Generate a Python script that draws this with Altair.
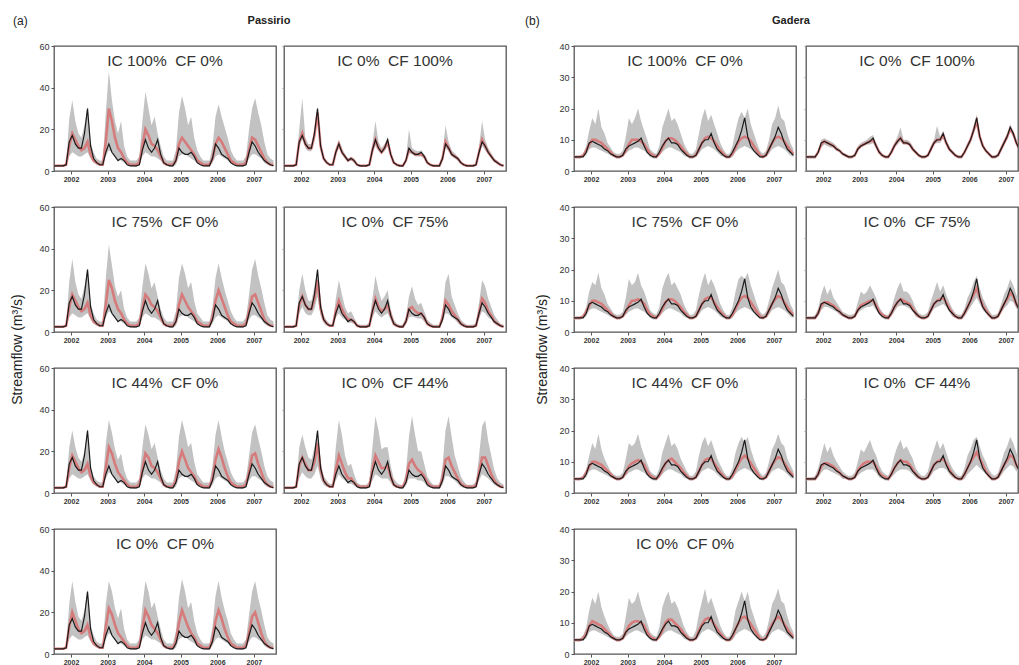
import altair as alt
import pandas as pd

FONT = "Liberation Sans"
T0 = 2001.535
N_MONTHS = 73
YEAR_TICKS = [2002, 2003, 2004, 2005, 2006, 2007]
PX_PER_YR = 222 / 6.07

# ---------------- Passirio (monthly values, m3/s) ----------------
obs_P = [2.5,2.5,2.5,2.5,3, 14,17,13,11,11,18,30,12, 6,4,3,3, 9,13,9,7,5,6,5,
         3,2.5,2.5,2.5,3, 10,15,11,9,11,15,8,4, 3,2.5,2.5, 5,11,9,8,8,9,7,4,
         3,2.5,2.5,2.5, 6,13,11,8,7,6,4, 3,2.5,2.5,2.5,3, 9,14,12,9,7,5,4,3,2.5]

lo_P_IC = [2,2,2,2,2.5, 7,9,8,7,7,8,9,6, 4,3,2.5,2.5, 7,10,9,7,5.5,5,4,
           3,2.5,2,2,3, 7,9,8,7,7,6,5,3, 2.5,2,2, 3,7,8,8,7,6,5,3.5,
           3,2.5,2,2, 4,7,8,7,6,5,3.5, 3,2.5,2,2,3, 6,8,8,7,6,4,3,2.5,2]

red_P_IC100 = [2.5,2.5,2.5,2.5,3, 12,18,15,12,10,11,14,8, 5,4,3,3, 14,30,24,16,11,9,6,
               4,3,3,3,4, 12,20,17,13,12,10,7,4, 3,3,3, 5,13,16,14,12,10,8,5,
               4,3,3,3, 6,13,16,14,11,8,5, 4,3,3,3,4, 10,16,15,12,9,6,4,3,3]
hi_P_IC100 = [3,3,3,3,4, 25,34,24,18,16,22,31,14, 9,6,5,5, 28,48,34,24,18,24,12,
              7,5,5,5,7, 24,38,30,22,26,18,12,7, 5,5,5, 10,28,36,30,22,26,16,10,
              7,5,5,5, 12,26,32,26,21,16,10, 7,5,5,5,7, 20,30,35,28,22,14,8,6,5]

red_P_IC75 = [2.5,2.5,2.5,2.5,3, 12,18,15,12,10,11,14,8, 5,4,3,3, 13,25,21,15,11,9,6,
              4,3,3,3,4, 11,18,16,13,12,10,7,4, 3,3,3, 5,13,18,15,12,10,8,5,
              4,3,3,3, 7,15,20,16,12,8,5, 4,3,3,3,4, 10,17,18,14,10,6,4,3,3]
hi_P_IC75 = [3,3,3,3,4, 24,35,24,18,16,22,31,14, 9,6,5,5, 26,42,32,22,17,20,11,
             7,5,5,5,7, 22,33,28,21,24,17,11,7, 5,5,5, 10,26,33,28,21,24,15,9,
             7,5,5,5, 12,26,33,26,20,15,10, 7,5,5,5,7, 18,30,35,27,21,14,8,6,5]

red_P_IC44 = [2.5,2.5,2.5,2.5,3, 12,18,15,12,10,11,14,8, 5,4,3,3, 12,22,19,14,10,8,6,
              4,3,3,3,4, 11,19,17,13,12,10,7,4, 3,3,3, 6,15,20,16,12,10,8,5,
              4,3,3,3, 7,16,21,17,12,8,5, 4,3,3,3,4, 10,18,19,14,10,6,4,3,3]
hi_P_IC44 = [3,3,3,3,4, 22,30,22,17,15,20,31,13, 8,6,5,5, 24,35,29,21,16,19,11,
             7,5,5,5,7, 22,33,28,21,24,17,11,7, 5,5,5, 11,27,35,29,22,24,15,9,
             7,5,5,5, 13,28,35,27,20,15,10, 7,5,5,5,7, 18,29,33,26,20,13,8,6,5]

red_P_IC0 = [2.5,2.5,2.5,2.5,3, 13,20,16,12,10,11,14,8, 5,4,3,3, 13,22,19,14,10,8,6,
             4,3,3,3,4, 12,21,18,14,12,10,7,4, 3,3,3, 6,15,21,17,13,10,8,5,
             4,3,3,3, 7,16,21,17,12,8,5, 4,3,3,3,4, 10,18,20,15,10,6,4,3,3]
hi_P_IC0 = [3,3,3,3,4, 24,35,25,18,16,21,31,14, 9,6,5,5, 24,35,30,22,17,22,12,
            7,5,5,5,7, 23,35,30,22,25,18,12,7, 5,5,5, 11,27,36,30,22,25,16,10,
            7,5,5,5, 13,28,35,27,21,16,10, 7,5,5,5,7, 19,30,35,27,21,14,8,6,5]

red_P_CF100 = [2.5,2.5,2.5,2.5,3, 14,18,13,11,11,17,28,12, 6,4,3,3, 9,13,9,7,5,6,5,
               3,2.5,2.5,2.5,3, 10,15,11,9,11,14,8,4, 3,2.5,2.5, 5,10,9,8,8,8,7,4,
               3,2.5,2.5,2.5, 6,14,11,8,7,6,4, 3,2.5,2.5,2.5,3, 9,15,12,9,7,5,4,3,2.5]
lo_P_CF100 = [2,2,2,2,2.5, 12,15,11,9.5,9.5,15,25,10, 5,3.5,2.5,2.5, 8,11,8,6,4.5,5,4,
              2.5,2,2,2,2.5, 8.5,12,9.5,8,9.5,12,7,3.5, 2.5,2,2, 4,8.5,8,7,7,7,6,3.5,
              2.5,2,2,2, 5,11,9.5,7,6,5,3.5, 2.5,2,2,2,2.5, 8,12,10,8,6,4.5,3.5,2.5,2]
hi_P_CF100 = [3,3,3,3,3.5, 20,35,16,13,13,20,31,14, 7,5,3.5,3.5, 11,15,11,8,6,7,6,
              3.5,3,3,3,3.5, 13,24,14,11,13,16,9,5, 3.5,3,3, 6,20,11,10,9.5,10,8,5,
              3.5,3,3,3, 8,22,14,10,8.5,7,5, 3.5,3,3,3,3.5, 12,24,15,11,8.5,6,5,3.5,3]

red_P_CF75 = [2.5,2.5,2.5,2.5,3, 13,17,13,11,11,16,25,11, 6,4,3,3, 10,15,11,8,6,6,5,
              3,2.5,2.5,2.5,3, 10,16,12,10,11,13,8,4, 3,2.5,2.5, 5,11,12,10,9,9,7,4,
              3,2.5,2.5,2.5, 7,15,13,10,8,6,4, 3,2.5,2.5,2.5,3, 9,16,14,10,8,5,4,3,2.5]
lo_P_CF75 = [2,2,2,2,2.5, 9,12,9,8,8,11,17,8, 4.5,3,2.5,2.5, 7,9,7,6,4.5,4.5,4,
             2.5,2,2,2,2.5, 7,10,8,7,8,9,6,3, 2.5,2,2, 3.5,7,7.5,7,6.5,6.5,5,3,
             2.5,2,2,2, 4.5,9,8.5,7,6,4.5,3, 2.5,2,2,2,2.5, 6.5,10,9,7,6,4,3,2.5,2]
hi_P_CF75 = [3,3,3,3,4, 20,28,20,15,15,22,30,15, 8,5.5,4,4, 16,25,18,12,9,10,7,
             4,3.5,3.5,3.5,4.5, 16,27,20,15,17,20,11,6, 4,3.5,3.5, 7,17,22,16,13,14,10,6,
             4.5,3.5,3.5,3.5, 10,24,28,17,13,9,6, 4.5,3.5,3.5,3.5,4.5, 14,25,22,16,12,8,6,4,3.5]

red_P_CF44 = [2.5,2.5,2.5,2.5,3, 13,17,14,11,11,15,24,11, 6,4,3,3, 11,18,14,10,7,7,5,
              3.5,3,3,3,3.5, 11,18,15,12,12,13,8,4, 3,3,3, 6,14,16,13,11,10,8,5,
              3.5,3,3,3, 7,16,17,13,10,7,4.5, 3.5,3,3,3,3.5, 10,17,17,13,9,6,4,3,3]
lo_P_CF44 = [2,2,2,2,2.5, 7,10,8,7,7,9,13,7, 4,3,2.5,2.5, 6,9,7,6,4.5,4.5,3.5,
             2.5,2,2,2,2.5, 6,9,8,7,7,7,5,3, 2.5,2,2, 3.5,7,7,7,6,6,5,3,
             2.5,2,2,2, 4,8,8,7,6,4.5,3, 2.5,2,2,2,2.5, 6,9,8,7,5.5,4,3,2.5,2]
hi_P_CF44 = [3,3,3,3,4, 22,28,22,17,16,22,30,15, 8,6,4.5,4.5, 22,35,28,18,13,14,9,
             5,4,4,4,5.5, 22,37,30,21,22,22,13,7, 5,4,4, 10,27,37,28,20,20,14,8,
             5.5,4,4,4, 13,30,37,27,18,13,8, 5.5,4,4,4,5.5, 18,32,35,25,18,11,7,5,4]

# ---------------- Gadera (monthly values, m3/s) ----------------
obs_G = [4.5,4.5,4.5,4.5,6, 9,9.5,9,8.5,8,7,6.5, 5.5,5,4.5,4.5,5,
         7,8,8.5,9,9.5,10.5,8,6,5,4.5, 4.5,6,8,9.5,10.5,9,9,8.5,7,6,5,4.5,
         4.5,5,7,9,10,10,12,9,7,6,5,4.5, 4.5,6,8,10,13,17,11,8,6.5,5.5,4.5,4.5,
         5,7,9,11,14,12,9,7,6,5]

lo_G_IC = [4,4,4,4.5,5, 7,7.5,7.5,7,6.5,6,5.5, 5,4.5,4,4,4.5,
           5.5,6.5,7,7.5,7.5,7,6.5,5.5,4.5,4, 4,5,6,7,7.5,7.5,7,6.5,6,5,4.5,4,
           4,4.5,5.5,7,7.5,8,7.5,7,6,5,4.5,4, 4,4.5,6,7,7.5,8,7.5,7,6,5,4.5,4,
           4.5,5.5,7,7.5,8,7.5,7,6,5,4.5]

red_G_IC100 = [4.5,4.5,4.5,5,6.5, 8.5,10,10,9.5,9,8,7, 6,5,4.5,4.5,5,
               6.5,8.5,10,10,10,9.5,8.5,7,5.5,5, 4.5,5.5,7.5,9.5,10.5,10.5,10,9,8,6.5,5.5,4.5,
               4.5,5,7,9,10.5,11,10.5,9.5,8,6.5,5.5,4.5, 4.5,5.5,7.5,9.5,10.5,11,10.5,9.5,8,6.5,5,4.5,
               5,7,9,10.5,11,10.5,9.5,8,6.5,5.5]
hi_G_IC100 = [5,5,5,5.5,8, 13,17,15,20,14,12,9, 7.5,6,5.5,5.5,6.5,
              11,17,15,17,20,16,13,10,7,6, 5.5,8,14,17,20,16,17,15,12,9,7,5.5,
              5.5,7,12,17,20,16,18,15,12,9,7,5.5, 5.5,8,13,17,19,17,20,15,12,9,6.5,5.5,
              6.5,10,15,17,21,17,16,12,9,7]

red_G_IC75 = [4.5,4.5,4.5,5,6.5, 8.5,10,10,9.5,9,8,7, 6,5,4.5,4.5,5,
              6.5,8.5,10,10,10.5,10,9,7,5.5,5, 4.5,5.5,7.5,9.5,10.5,10.5,10,9,8,6.5,5.5,4.5,
              4.5,5,7,9,10.5,11,11,9.5,8,6.5,5.5,4.5, 4.5,5.5,7.5,9.5,11,11.5,11,9.5,8,6.5,5,4.5,
              5,7,9,10.5,11.5,11,9.5,8,6.5,5.5]
hi_G_IC75 = [5,5,5,5.5,8, 13,16,15,19,14,12,9, 7.5,6,5.5,5.5,6.5,
             11,17,15,16,19,15,13,10,7,6, 5.5,8,14,17,19,15,16,14,12,9,7,5.5,
             5.5,7,12,16,19,15,17,15,12,9,7,5.5, 5.5,8,13,17,18,17,19,15,12,9,6.5,5.5,
             6.5,10,14,17,20,16,15,12,9,7]

red_G_IC44 = [4.5,4.5,4.5,5,6.5, 8.5,10,10,9.5,9,8,7, 6,5,4.5,4.5,5,
              6.5,8.5,9.5,10,10.5,10,9,7,5.5,5, 4.5,5.5,7.5,9.5,10.5,11,10,9,8,6.5,5.5,4.5,
              4.5,5,7,9,10.5,11,11,9.5,8,6.5,5.5,4.5, 4.5,5.5,7.5,9.5,11,12,11,9.5,8,6.5,5,4.5,
              5,7,9,10.5,11.5,11,9.5,8,6.5,5.5]
hi_G_IC44 = [5,5,5,5.5,7.5, 12,16,14,19,14,11,9, 7,6,5.5,5.5,6.5,
             11,16,15,16,19,15,12,9.5,7,6, 5.5,8,13,16,19,15,16,14,11,9,7,5.5,
             5.5,7,12,16,18,15,17,14,11,9,7,5.5, 5.5,8,13,16,18,16,18,14,11,8.5,6.5,5.5,
             6.5,10,14,16,19,16,15,11,9,7]

red_G_IC0 = [4.5,4.5,4.5,5,6.5, 9,10.5,10,9.5,9,8,7, 6,5,4.5,4.5,5,
             7,9,10,10.5,10.5,10,9,7,5.5,5, 4.5,5.5,7.5,10,11,11,10,9,8,6.5,5.5,4.5,
             4.5,5,7.5,9.5,11,11.5,11,9.5,8,6.5,5.5,4.5, 4.5,5.5,8,10,11.5,12,11,9.5,8,6.5,5,4.5,
             5,7.5,9.5,11,12,11,9.5,8,6.5,5.5]
hi_G_IC0 = [5,5,5,6,8.5, 14,18,16,20,15,12,9.5, 7.5,6,5.5,5.5,6.5,
            12,18,16,17,20,16,13,10,7,6, 5.5,8.5,15,18,20,16,17,15,12,9,7,5.5,
            5.5,7.5,13,17,21,16,18,15,12,9,7,5.5, 5.5,8.5,14,17,20,17,20,15,12,9,6.5,5.5,
            7,11,16,18,21,17,16,12,9,7]

red_G_CF100 = [4.5,4.5,4.5,4.5,6, 8.5,9.5,9,8.5,8,7,6.5, 5.5,5,4.5,4.5,5,
               7,8,8.5,9,9.5,10,8,6,5,4.5, 4.5,6,8,9.5,10.5,9,9,8.5,7,6,5,4.5,
               4.5,5,7,9,10,10,11.5,9,7,6,5,4.5, 4.5,6,8,10,13,16,11,8,6.5,5.5,4.5,4.5,
               5,7,9,11,13.5,12,9,7,6,5]
lo_G_CF100 = [4,4,4,4,5.5, 7.5,8.5,8,7.5,7.5,6.5,6, 5,4.5,4,4,4.5,
              6.5,7.5,8,8.5,8.5,9,7.5,5.5,4.5,4, 4,5.5,7.5,8.5,9.5,8.5,8.5,8,6.5,5.5,4.5,4,
              4,4.5,6.5,8.5,9,9,10.5,8.5,6.5,5.5,4.5,4, 4,5.5,7.5,9,12,14.5,10,7.5,6,5,4,4,
              4.5,6.5,8.5,10,12.5,11,8.5,6.5,5.5,4.5]
hi_G_CF100 = [5,5,5,5,6.5, 10,10.5,10,9.5,9,8,7, 6,5.5,5,5,5.5,
              8,9,9.5,10,11,11.5,9,7,5.5,5, 5,7,9,11,14,10,10,9.5,8,6.5,5.5,5,
              5,5.5,8,10,14.5,11,13,10,8,6.5,5.5,5, 5,6.5,9,11,14.5,18,12,9,7,6,5,5,
              5.5,8,10,12,15,13,10,8,6.5,5.5]

red_G_CF75 = [4.5,4.5,4.5,4.5,6, 8.5,9.5,9.5,9,8.5,7.5,6.5, 5.5,5,4.5,4.5,5,
              7,8.5,9,9.5,10,10,8.5,6.5,5.5,5, 4.5,6,8,9.5,10.5,10,9.5,9,7.5,6,5,4.5,
              4.5,5,7,9,10,10.5,11,9.5,7.5,6,5,4.5, 4.5,6,8,10,12,14,11,8.5,7,5.5,4.5,4.5,
              5,7,9,10.5,12.5,11.5,9,7.5,6,5]
lo_G_CF75 = [4,4,4,4,5, 7,8,8,7.5,7,6.5,5.5, 5,4.5,4,4,4.5,
             6,7,7.5,8,8,8.5,7,5.5,4.5,4, 4,5,6.5,8,8.5,8.5,8,7.5,6.5,5,4.5,4,
             4,4.5,6,7.5,8,8.5,9,8,6.5,5,4.5,4, 4,5,6.5,8,9.5,11,9,7,6,5,4,4,
             4.5,6,7.5,8.5,10,9.5,7.5,6.5,5,4.5]
hi_G_CF75 = [5,5,5,5.5,7.5, 12,15,12,14,11,9.5,8, 6.5,6,5.5,5.5,6,
             9.5,13,12,13,15,13,11,8,6.5,5.5, 5.5,7.5,11,14,16,13,13,12,10,7.5,6,5.5,
             5.5,6.5,10,13,16,13,15,12,9.5,7.5,6,5.5, 5.5,7.5,11,13,16,18,14,11,9,7,5.5,5.5,
             6,9,12,14,17,15,12,9.5,7.5,6]

red_G_CF44 = [4.5,4.5,4.5,4.5,6, 8.5,9.5,9.5,9,8.5,7.5,6.5, 5.5,5,4.5,4.5,5,
              7,8.5,9.5,10,10,10,8.5,6.5,5.5,5, 4.5,6,8,9.5,10.5,10,10,9,7.5,6,5,4.5,
              4.5,5,7,9,10,10.5,11,9.5,7.5,6,5,4.5, 4.5,6,8,10,11.5,13,11,9,7,5.5,4.5,4.5,
              5,7,9,10.5,12,11.5,9,7.5,6,5]
lo_G_CF44 = [4,4,4,4,5, 6.5,7.5,7.5,7,6.5,6,5.5, 4.5,4.5,4,4,4.5,
             5.5,6.5,7,7.5,7.5,7.5,6.5,5,4.5,4, 4,5,6,7,7.5,7.5,7.5,7,6,5,4.5,4,
             4,4.5,5.5,7,7.5,8,8,7.5,6,5,4.5,4, 4,4.5,6,7,8,9,8,7,6,5,4,4,
             4.5,5.5,7,8,9,8.5,7,6,5,4.5]
hi_G_CF44 = [5,5,5,5.5,8, 12,16,13,15,12,10,8.5, 7,6,5.5,5.5,6.5,
             10,14,13,15,17,14,12,9,7,6, 5.5,8,12,15,17,14,15,13,11,8,6.5,5.5,
             5.5,7,11,14,17,14,16,13,10,8,6.5,5.5, 5.5,8,12,14,17,18,15,12,10,7.5,6,5.5,
             6.5,9.5,13,15,18,16,13,10,8,6.5]

P_TICKS = [0, 20, 40, 60]
G_TICKS = [0, 10, 20, 30, 40]
YTITLE = "Streamflow (m³/s)"
NB = "\u00a0"
PANEL_H = 125
ONE = pd.DataFrame({"a": [0]})


def panel(obs, red, lo, hi, label, ymax, yticks, first_col, width=222,
          texts=None, ytitle_pos=None):
    xmax = T0 + width / PX_PER_YR
    df = pd.DataFrame({
        "t": [T0 + m / 12 for m in range(N_MONTHS)],
        "obs": obs, "red": red, "lo": lo, "hi": hi,
    })
    xscale = alt.Scale(domain=[T0, xmax], nice=False, zero=False)
    xaxis = alt.Axis(values=YEAR_TICKS, format="d", labelFontSize=7,
                     tickSize=3, labelPadding=1, grid=False, domain=False,
                     labelColor="#333", tickColor="#555",
                     labelFontWeight="bold", labelOverlap=False)
    yscale = alt.Scale(domain=[0, ymax], nice=False)
    ytitle = None
    if first_col:
        akw = dict(values=yticks, labelFontSize=9, tickSize=3, labelPadding=2,
                   grid=False, domain=False, labelColor="#333", tickColor="#555",
                   labelOverlap=False)
        if ytitle_pos is not None:
            akw.update(titleX=ytitle_pos[0], titleY=ytitle_pos[1], titleFontSize=14,
                       titleFontWeight="normal", titleColor="#222", titleAngle=270,
                       titleBaseline="middle", titleAlign="center")
            ytitle = YTITLE
        yaxis = alt.Axis(**akw)
    else:
        yaxis = alt.Axis(values=yticks, labels=False, tickSize=2, grid=False,
                         domain=False, tickColor="#999", labelOverlap=False)

    def X():
        return alt.X("t:Q", title=None, scale=xscale, axis=xaxis)

    def Y(field):
        if ytitle is not None:
            return alt.Y(field, title=ytitle, scale=yscale, axis=yaxis)
        return alt.Y(field, title=None, scale=yscale, axis=yaxis)

    base = alt.Chart(df)
    band = base.mark_area(color="#c2c2c2", clip=True).encode(x=X(), y=Y("lo:Q"), y2="hi:Q")
    redl = base.mark_line(color="#de5c5c", strokeWidth=2.6, opacity=0.7, clip=True).encode(
        x=X(), y=Y("red:Q"))
    obsl = base.mark_line(color="#1a1a1a", strokeWidth=1.2, clip=True).encode(
        x=X(), y=Y("obs:Q"))
    lab = alt.Chart(ONE).mark_text(font=FONT, fontSize=15.5, color="#333",
                                   align="center", baseline="middle").encode(
        x=alt.value(111), y=alt.value(15), text=alt.value(label))
    layers = [band, redl, obsl, lab]
    for (txt, tx, ty, bold, align, size) in (texts or []):
        layers.append(alt.Chart(ONE).mark_text(
            font=FONT, fontSize=size, color="#222", align=align, baseline="middle",
            fontWeight="bold" if bold else "normal").encode(
            x=alt.value(tx), y=alt.value(ty), text=alt.value(txt)))
    return alt.layer(*layers).properties(width=width, height=PANEL_H)


def blank(width):
    return alt.Chart(ONE).mark_point(opacity=0).encode(
        x=alt.value(0), y=alt.value(0)).properties(
        width=width, height=PANEL_H, view=alt.ViewBackground(stroke="transparent"))


def lbl(ic, cf):
    return f"IC {ic}%{NB}{NB}CF {cf}%"


# Passirio
pA1 = panel(obs_P, red_P_IC100, lo_P_IC, hi_P_IC100, lbl(100, 0), 60, P_TICKS, True,
            texts=[("(a)", -41, -25, False, "left", 12), ("Passirio", 215, -25, True, "center", 11)])
pA2 = panel(obs_P, red_P_CF100, lo_P_CF100, hi_P_CF100, lbl(0, 100), 60, P_TICKS, False)
pB1 = panel(obs_P, red_P_IC75, lo_P_IC, hi_P_IC75, lbl(75, 0), 60, P_TICKS, True,
            ytitle_pos=(-37, 142))
pB2 = panel(obs_P, red_P_CF75, lo_P_CF75, hi_P_CF75, lbl(0, 75), 60, P_TICKS, False)
pC1 = panel(obs_P, red_P_IC44, lo_P_IC, hi_P_IC44, lbl(44, 0), 60, P_TICKS, True)
pC2 = panel(obs_P, red_P_CF44, lo_P_CF44, hi_P_CF44, lbl(0, 44), 60, P_TICKS, False)
pD1 = panel(obs_P, red_P_IC0, lo_P_IC, hi_P_IC0, lbl(0, 0), 60, P_TICKS, True)

# Gadera
gA1 = panel(obs_G, red_G_IC100, lo_G_IC, hi_G_IC100, lbl(100, 0), 40, G_TICKS, True,
            texts=[("(b)", -49, -25, False, "left", 12), ("Gadera", 217, -25, True, "center", 11)])
gA2 = panel(obs_G, red_G_CF100, lo_G_CF100, hi_G_CF100, lbl(0, 100), 40, G_TICKS, False,
            width=212)
gB1 = panel(obs_G, red_G_IC75, lo_G_IC, hi_G_IC75, lbl(75, 0), 40, G_TICKS, True,
            ytitle_pos=(-32, 142))
gB2 = panel(obs_G, red_G_CF75, lo_G_CF75, hi_G_CF75, lbl(0, 75), 40, G_TICKS, False,
            width=212)
gC1 = panel(obs_G, red_G_IC44, lo_G_IC, hi_G_IC44, lbl(44, 0), 40, G_TICKS, True)
gC2 = panel(obs_G, red_G_CF44, lo_G_CF44, hi_G_CF44, lbl(0, 44), 40, G_TICKS, False,
            width=212)
gD1 = panel(obs_G, red_G_IC0, lo_G_IC, hi_G_IC0, lbl(0, 0), 40, G_TICKS, True)

cells = [
    pA1, blank(8), pA2, blank(68), gA1, blank(10), gA2,
    pB1, blank(8), pB2, blank(68), gB1, blank(10), gB2,
    pC1, blank(8), pC2, blank(68), gC1, blank(10), gC2,
    pD1, blank(8), blank(222), blank(68), gD1, blank(10), blank(212),
]

chart = alt.concat(*cells, columns=7, spacing={"row": 36, "column": 0},
                   bounds="flush").properties(
    padding={"left": 9, "top": 14, "right": 0, "bottom": 0},
    background="white",
).configure(font=FONT).configure_view(stroke="#555", strokeWidth=1.3)

chart.save("out.html", embed_options={"renderer": "svg", "actions": False})
